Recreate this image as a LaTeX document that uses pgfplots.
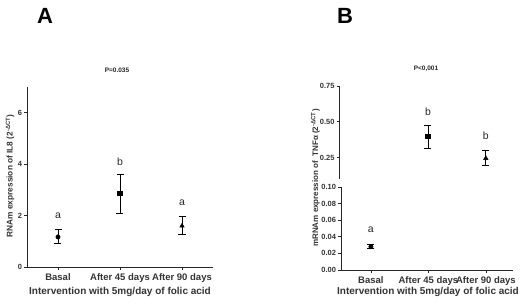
\documentclass[border=0pt]{standalone}
\usepackage{pgfplots}
\pgfplotsset{compat=1.18}
\usepackage{fontspec}
\setmainfont{Liberation Sans}
\pgfplotsset{
 myax/.style={scale only axis,
   axis y line*=left,
   axis line style={-, line width=0.8pt, black!85},
   tick align=outside, major tick length=3pt,
   tick style={line width=0.8pt, black!85},
   xmin=-0.5, xmax=2.5,
   /pgf/number format/assume math mode=true,
   yticklabel style={font=\bfseries\fontsize{7.5}{9}\selectfont, black!80, xshift=1.5pt},
   xticklabel style={font=\bfseries\fontsize{9.5}{11}\selectfont, black!80},
   clip=false,
 },
 myerr/.style={only marks, black, mark options={solid, fill=black},
   error bars/y dir=both, error bars/y explicit,
   error bars/error bar style={line width=0.8pt, black},
   error bars/error mark options={rotate=90, mark size=3.5pt, line width=0.8pt, black}},
}
\begin{document}
\begin{tikzpicture}[x=1pt,y=1pt]
\useasboundingbox (0,0) rectangle (520,306);
% ---------- Panel A ----------
\begin{axis}[myax, axis x line*=bottom, at={(27pt,39pt)}, anchor=south west,
  width=186pt, height=180pt, ymin=0, ymax=7, ytick={0,2,4,6},
  xtick={0,1,2}, xticklabels={Basal,After 45 days,After 90 days}]
\addplot[myerr, mark=*, mark size=2.2pt] coordinates {(0,1.17) += (0,0.31) -= (0,0.27)};
\addplot[myerr, mark=square*, mark size=2.3pt] coordinates {(1,2.87) += (0,0.75) -= (0,0.77)};
\addplot[myerr, mark=triangle*, mark size=2.6pt] coordinates {(2,1.6) += (0,0.38) -= (0,0.32)};
\node[font=\fontsize{10.5}{12}\selectfont, black!85] at (axis cs:0,2.0) {a};
\node[font=\fontsize{10.5}{12}\selectfont, black!85] at (axis cs:1,4.1) {b};
\node[font=\fontsize{10.5}{12}\selectfont, black!85] at (axis cs:2,2.5) {a};
\end{axis}
% ---------- Panel B lower ----------
\begin{axis}[myax, axis x line*=bottom, at={(341pt,36pt)}, anchor=south west,
  width=172pt, height=83pt, ymin=0, ymax=0.1, ytick={0,0.02,...,0.1},
  xmin=-0.52, xmax=2.47,
  yticklabel style={/pgf/number format/.cd, fixed, fixed zerofill, precision=2},
  xtick={0,1,2}, xticklabels={Basal,After 45 days,After 90 days}]
\addplot[myerr, mark=*, mark size=2.2pt] coordinates {(0,0.028) += (0,0.003) -= (0,0.002)};
\node[font=\fontsize{10.5}{12}\selectfont, black!85] at (axis cs:0,0.049) {a};
\end{axis}
% ---------- Panel B upper ----------
\begin{axis}[myax, axis x line=none, at={(339.5pt,127pt)}, anchor=south west,
  width=173.5pt, height=93pt, ymin=0.1, ymax=0.75, ytick={0.25,0.5,0.75},
  xmin=-0.53, xmax=2.47,
  yticklabel style={/pgf/number format/.cd, fixed, fixed zerofill, precision=2}]
\addplot[myerr, mark=square*, mark size=2.3pt] coordinates {(1,0.398) += (0,0.074) -= (0,0.081)};
\addplot[myerr, mark=triangle*, mark size=2.6pt] coordinates {(2,0.245) += (0,0.058) -= (0,0.051)};
\node[font=\fontsize{10.5}{12}\selectfont, black!85] at (axis cs:1,0.571) {b};
\node[font=\fontsize{10.5}{12}\selectfont, black!85] at (axis cs:2,0.402) {b};
\end{axis}
% ---------- texts ----------
\node[font=\bfseries\fontsize{22}{24}\selectfont] at (45,290) {A};
\node[font=\bfseries\fontsize{22}{24}\selectfont] at (345,290) {B};
\node[font=\bfseries\fontsize{6.5}{8}\selectfont, black!85] at (117,236) {P=0.035};
\node[font=\bfseries\fontsize{6.5}{8}\selectfont, black!85] at (426,237) {P<0,001};
\node[font=\bfseries\fontsize{10}{11}\selectfont, black!80] at (120,14) {Intervention with 5mg/day of folic acid};
\node[font=\bfseries\fontsize{10}{11}\selectfont, black!80] at (428,14) {Intervention with 5mg/day of folic acid};
\node[font=\bfseries\fontsize{8.3}{9}\selectfont, black!80, rotate=90] at (10,130) {RNAm expression of IL8 (2\textsuperscript{-ΔCT})};
\node[font=\bfseries\fontsize{8}{9}\selectfont, black!80, rotate=90] at (315.5,128) {mRNAm expression of\ \ TNFα (2\textsuperscript{-ΔCT})};
\end{tikzpicture}
\end{document}
